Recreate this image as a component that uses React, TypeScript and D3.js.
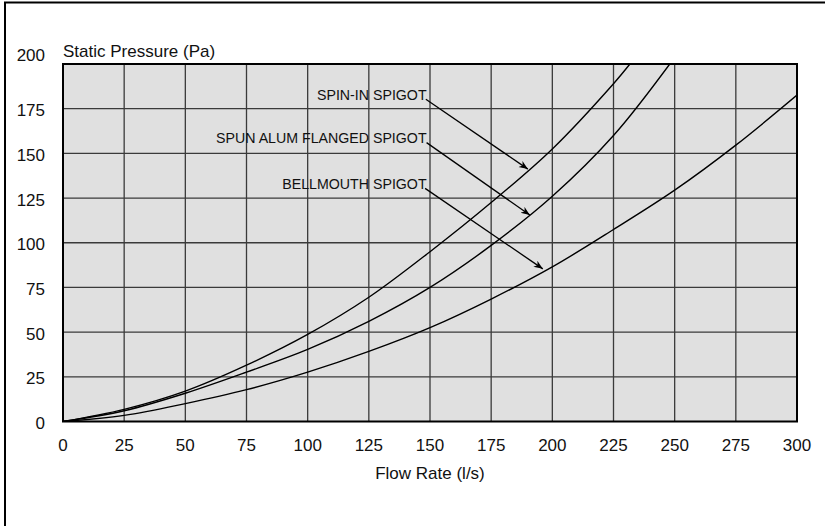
import React from "react";
import * as d3 from "d3";

const xTicks = [0, 25, 50, 75, 100, 125, 150, 175, 200, 225, 250, 275, 300];
const yTicks = [0, 25, 50, 75, 100, 125, 150, 175, 200];

const spinInFlow = [0, 25, 50, 75, 100, 125, 150, 175, 200, 225, 231.7];
const spinInPressure = [0, 6.8, 17, 31.5, 48.7, 69.5, 95, 122.5, 152.5, 189, 200];

const spunFlow = [0, 25, 50, 75, 100, 125, 150, 175, 200, 225, 248];
const spunPressure = [0, 6, 15.8, 27.6, 40.3, 56, 75, 98.5, 126, 160, 200];

const bellFlow = [0, 25, 50, 75, 100, 125, 150, 175, 200, 225, 250, 275, 300];
const bellPressure = [0, 3.4, 10, 17.8, 27.6, 39.2, 52.5, 68.5, 86.5, 107.4, 129.4, 154.6, 182.6];

const labels = ["SPIN-IN SPIGOT", "SPUN ALUM FLANGED SPIGOT", "BELLMOUTH SPIGOT"];
// label anchor (flow, pressure) and arrow from/to (flow, pressure)
const labelAt = [[148.6, 180], [148.6, 156], [148.6, 130]];
const arrowFrom = [[148.3, 180.3], [148.6, 156], [148, 130.4]];
const arrowTo = [[190, 141.2], [190.8, 115.5], [196.1, 85.4]];

const W = 825, H = 526;
const L = 63, R = 797, T = 64, B = 421.5;

export default function App() {
  const x = d3.scaleLinear().domain([0, 300]).range([L, R]);
  const y = d3.scaleLinear().domain([0, 200]).range([B, T]);
  const line = d3.line<[number, number]>().x(d => x(d[0])).y(d => y(d[1])).curve(d3.curveCatmullRom.alpha(0.5));
  const series = [
    spinInFlow.map((f, i) => [f, spinInPressure[i]] as [number, number]),
    spunFlow.map((f, i) => [f, spunPressure[i]] as [number, number]),
    bellFlow.map((f, i) => [f, bellPressure[i]] as [number, number]),
  ];
  const font = "'Liberation Sans', Arial, sans-serif";
  return (
    <svg width={W} height={H} style={{ position: "absolute", left: 0, top: 0, background: "#fff" }} fontFamily={font}>
      <defs>
        <marker id="arr" viewBox="0 0 10 10" refX="10" refY="5" markerWidth="9" markerHeight="9" markerUnits="userSpaceOnUse" orient="auto">
          <path d="M0,1 L10,5 L0,9 L3,5 Z" fill="#000" />
        </marker>
        <clipPath id="clip"><rect x={L} y={T} width={R - L} height={B - T} /></clipPath>
      </defs>
      <line x1={5} y1={2} x2={5} y2={H} stroke="#000" strokeWidth={2} />
      <line x1={4} y1={2.5} x2={W} y2={2.5} stroke="#000" strokeWidth={2} />
      <rect x={L} y={T} width={R - L} height={B - T} fill="#e0e0e0" />
      {xTicks.slice(1, -1).map(t => (
        <line key={"gx" + t} x1={x(t)} x2={x(t)} y1={T} y2={B} stroke="#3a3a3a" strokeWidth={1.3} />
      ))}
      {yTicks.slice(1, -1).map(t => (
        <line key={"gy" + t} x1={L} x2={R} y1={y(t)} y2={y(t)} stroke="#3a3a3a" strokeWidth={1.3} />
      ))}
      <g clipPath="url(#clip)">
        {series.map((s, i) => (
          <path key={i} d={line(s) || ""} fill="none" stroke="#000" strokeWidth={1.4} />
        ))}
      </g>
      <rect x={L} y={T} width={R - L} height={B - T} fill="none" stroke="#000" strokeWidth={2} />
      {labels.map((lab, i) => (
        <g key={lab}>
          <text x={x(labelAt[i][0])} y={y(labelAt[i][1])} textAnchor="end" fontSize={14.2} fill="#111">{lab}</text>
          <line x1={x(arrowFrom[i][0])} y1={y(arrowFrom[i][1])} x2={x(arrowTo[i][0])} y2={y(arrowTo[i][1])} stroke="#000" strokeWidth={1.3} markerEnd="url(#arr)" />
        </g>
      ))}
      {yTicks.map(t => (
        <text key={"yt" + t} x={45} y={t === 200 ? y(t) - 9 : y(t) + 1.5} dy="0.36em" textAnchor="end" fontSize={17} fill="#111">{t}</text>
      ))}
      {xTicks.map(t => (
        <text key={"xt" + t} x={x(t)} y={450.7} textAnchor="middle" fontSize={17} fill="#111">{t}</text>
      ))}
      <text x={63} y={56.5} fontSize={17} fill="#111">Static Pressure (Pa)</text>
      <text x={(L + R) / 2} y={479} textAnchor="middle" fontSize={17} fill="#111">Flow Rate (l/s)</text>
    </svg>
  );
}
